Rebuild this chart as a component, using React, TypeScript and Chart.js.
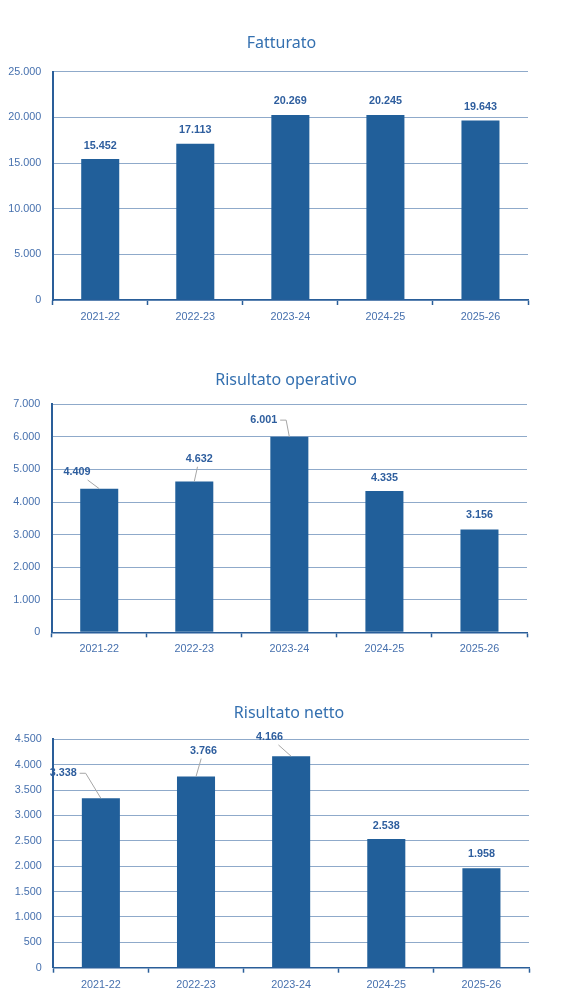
import React, { useEffect, useRef } from "react";
import { Chart, registerables } from "chart.js";

Chart.register(...registerables);

// ---- data ----
const categories = ["2021-22", "2022-23", "2023-24", "2024-25", "2025-26"];
const fatturato = [15452, 17113, 20269, 20245, 19643];
const risultatoOperativo = [4409, 4632, 6001, 4335, 3156];
const risultatoNetto = [3338, 3766, 4166, 2538, 1958];
const titles = ["Fatturato", "Risultato operativo", "Risultato netto"];
const yMax = [25000, 7000, 4500];
const yStep = [5000, 1000, 500];

// ---- styling / layout ----
const BAR = "#215F9A";
const GRID = "#8FAACA";
const AXIS = "#2A5E99";
const TICK_TXT = "#4670AE";
const LABEL_TXT = "#2E5E9E";
const TITLE_TXT = "#3470B0";
const LEADER = "#A6A6A6";

type Leader = "none" | "straight" | "elbow";
interface Layout {
  top: number; // canvas top in container
  height: number;
  plotTop: number;
  plotBottom: number;
  plotLeft: number;
  plotRight: number;
  titleX: number;
  titleY: number;
  labelDx: number[];
  labelDy: number[];
  leaders: Leader[];
}

const W = 563;
const layouts: Layout[] = [
  {
    top: 0, height: 325, plotTop: 63.7, plotBottom: 292, plotLeft: 44.7, plotRight: 520,
    titleX: 273.5, titleY: 35.5,
    labelDx: [0, 0, 0, 0, 0], labelDy: [-13, -13.5, -13.5, -14, -14],
    leaders: ["none", "none", "none", "none", "none"],
  },
  {
    top: 332, height: 325, plotTop: 64.3, plotBottom: 292.3, plotLeft: 43.7, plotRight: 519,
    titleX: 278, titleY: 40.7,
    labelDx: [-22.3, 5, -25.7, 0, 0], labelDy: [-16.7, -22.7, -16.7, -12.7, -14],
    leaders: ["straight", "straight", "elbow", "none", "none"],
  },
  {
    top: 665, height: 325, plotTop: 66.3, plotBottom: 294.7, plotLeft: 45.3, plotRight: 521,
    titleX: 281, titleY: 40.3,
    labelDx: [-37.7, 7.5, -21.7, 0, 0], labelDy: [-25, -26, -19.3, -13, -14],
    leaders: ["elbow", "straight", "straight", "none", "none"],
  },
];

const seriesList = [fatturato, risultatoOperativo, risultatoNetto];

const fmt = (v: number) => String(Math.round(v)).replace(/\B(?=(\d{3})+(?!\d))/g, ".");

const FONT_FAMILY = "'Liberation Sans', Arial, sans-serif";

function makeChart(canvas: HTMLCanvasElement, idx: number) {
  const L = layouts[idx];
  const data = seriesList[idx];
  const X_AXIS_H = 25;

  const overlay = {
    id: "overlay" + idx,
    afterDraw(chart: any) {
      const ctx = chart.ctx as CanvasRenderingContext2D;
      // title
      ctx.save();
      ctx.font = "16px 'Noto Sans', sans-serif";
      ctx.fillStyle = TITLE_TXT;
      ctx.textAlign = "center";
      ctx.textBaseline = "middle";
      ctx.fillText(titles[idx], L.titleX, L.titleY);
      ctx.restore();

      // data labels
      const meta = chart.getDatasetMeta(0);
      meta.data.forEach((el: any, i: number) => {
        const bx = el.x;
        const by = el.y;
        const cx = bx + L.labelDx[i];
        const cy = by + L.labelDy[i];
        const txt = fmt(data[i]);
        ctx.save();
        ctx.font = "bold 10.8px " + FONT_FAMILY;
        const tw = ctx.measureText(txt).width;
        const kind = L.leaders[i];
        ctx.strokeStyle = LEADER;
        ctx.lineWidth = 1;
        if (kind === "straight") {
          const sy = cy + 8;
          const t = (sy - cy) / (by - cy);
          const sx = cx + (bx - cx) * t;
          ctx.beginPath();
          ctx.moveTo(sx, sy);
          ctx.lineTo(bx, by);
          ctx.stroke();
        } else if (kind === "elbow") {
          const sx = cx + tw / 2 + 3;
          ctx.beginPath();
          ctx.moveTo(sx, cy);
          ctx.lineTo(sx + 6, cy);
          ctx.lineTo(bx, by);
          ctx.stroke();
        }
        ctx.fillStyle = LABEL_TXT;
        ctx.textAlign = "center";
        ctx.textBaseline = "middle";
        ctx.fillText(txt, cx, cy);
        ctx.restore();
      });
    },
  };

  return new Chart(canvas, {
    type: "bar",
    data: {
      labels: categories,
      datasets: [
        {
          data,
          backgroundColor: BAR,
          borderWidth: 0,
          barPercentage: 0.4,
          categoryPercentage: 1,
        },
      ],
    },
    options: {
      responsive: false,
      animation: false,
      devicePixelRatio: 1,
      layout: {
        padding: {
          top: L.plotTop,
          left: 0,
          right: W - L.plotRight,
          bottom: L.height - L.plotBottom - X_AXIS_H,
        },
      },
      plugins: {
        legend: { display: false },
        title: { display: false },
        tooltip: { enabled: false },
      },
      scales: {
        x: {
          grid: {
            display: true,
            drawOnChartArea: false,
            drawTicks: true,
            tickLength: 5,
            tickColor: AXIS,
            tickWidth: 1.5,
            offset: true,
          },
          border: { display: true, color: AXIS, width: 1.5 },
          ticks: {
            color: TICK_TXT,
            font: { family: FONT_FAMILY, size: 10.8 },
            padding: 5.5,
            maxRotation: 0,
          },
          afterFit(scale: any) {
            scale.height = X_AXIS_H;
          },
        },
        y: {
          min: 0,
          max: yMax[idx],
          ticks: {
            stepSize: yStep[idx],
            color: TICK_TXT,
            font: { family: FONT_FAMILY, size: 10.8 },
            padding: 11.5,
            callback: (v: any) => fmt(Number(v)),
          },
          grid: { color: GRID, lineWidth: 1, drawTicks: false },
          border: { display: true, color: AXIS, width: 2 },
          afterFit(scale: any) {
            scale.width = L.plotLeft;
          },
        },
      },
    },
    plugins: [overlay],
  });
}

function BarChart({ idx }: { idx: number }) {
  const ref = useRef<HTMLCanvasElement | null>(null);
  useEffect(() => {
    if (!ref.current) return;
    const c = makeChart(ref.current, idx);
    return () => c.destroy();
  }, [idx]);
  const L = layouts[idx];
  return (
    <canvas
      ref={ref}
      width={W}
      height={L.height}
      style={{ position: "absolute", left: 0, top: L.top, width: W, height: L.height }}
    />
  );
}

export default function App() {
  return (
    <div style={{ position: "relative", width: W, height: 990, overflow: "hidden", background: "#fff" }}>
      <BarChart idx={0} />
      <BarChart idx={1} />
      <BarChart idx={2} />
    </div>
  );
}
